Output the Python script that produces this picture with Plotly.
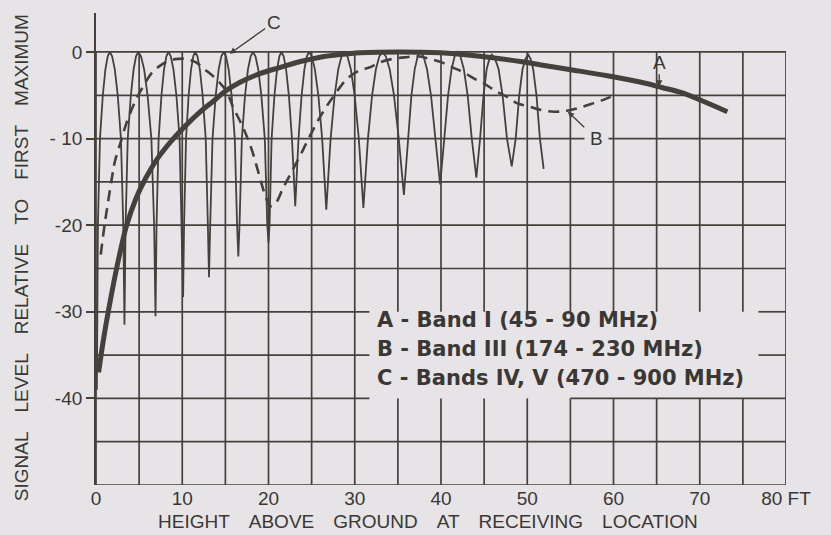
import plotly.graph_objects as go

# ---------------- data ----------------
# A - Band I (thick solid)
A_x = [0.3, 0.9, 1.7, 2.6, 3.5, 4.6, 5.8, 7.2, 8.8, 10.6, 12.2, 13.7, 14.9, 16.7,
       19.0, 21.3, 23.7, 26.0, 28.3, 30.6, 35.2, 39.9, 44.5, 49.2, 51.6, 55.4, 59.3,
       63.2, 65.6, 67.9, 70.2, 73.2]
A_y = [-37.0, -33.0, -28.5, -24.0, -20.2, -17.0, -14.5, -12.2, -10.2, -8.3, -6.8, -5.6,
       -4.6, -3.5, -2.5, -1.8, -1.1, -0.6, -0.3, -0.1, 0.0, -0.1, -0.5, -1.1, -1.5, -2.1,
       -2.75, -3.5, -4.1, -4.7, -5.6, -6.9]

# B - Band III (dashed)
B_x = [0.55, 0.95, 1.4, 1.9, 2.2, 2.9, 3.5, 4.5, 5.4, 6.4, 7.4, 8.5, 9.5, 10.5, 11.6,
       12.6, 13.9, 15.1, 15.9, 16.9, 18.0, 18.8, 19.6, 20.2, 20.8, 21.7, 22.7, 23.9,
       25.0, 26.4, 27.7, 29.1, 30.6, 31.7, 32.9, 34.4, 36.0, 37.3, 38.7, 40.1, 41.4,
       42.6, 43.9, 45.1, 46.3, 47.5, 48.8, 50.2, 51.6, 53.1, 54.5, 55.8, 57.4, 58.9, 60.1]
B_y = [-23.4, -20.3, -17.3, -14.2, -12.6, -10.3, -8.3, -5.8, -4.1, -2.5, -1.6, -1.0,
       -0.8, -0.8, -1.2, -2.0, -3.1, -4.5, -6.4, -8.4, -11.1, -13.8, -16.5, -17.8, -17.5,
       -15.7, -13.8, -11.5, -9.3, -6.8, -4.9, -3.1, -2.1, -1.8, -1.2, -0.8, -0.6, -0.5,
       -0.8, -1.2, -1.8, -2.35, -3.1, -3.7, -4.5, -5.1, -5.9, -6.3, -6.7, -6.9, -6.8,
       -6.5, -6.0, -5.5, -5.0]

# C - Bands IV, V (thin solid, lobes with deep nulls)
C_x = [0.1,
       0.22, 0.46, 0.79, 1.09, 1.36, 1.6, 1.87, 2.18, 2.52, 2.89, 3.16,
       3.3,
       3.43, 3.68, 4.04, 4.36, 4.64, 4.9, 5.22, 5.58, 5.98, 6.42, 6.74,
       6.9,
       7.02, 7.26, 7.59, 7.89, 8.16, 8.4, 8.67, 8.98, 9.32, 9.69, 9.96,
       10.1,
       10.21, 10.44, 10.74, 11.02, 11.28, 11.5, 11.76, 12.04, 12.36, 12.72, 12.97,
       13.1,
       13.24, 13.51, 13.88, 14.22, 14.53, 14.8, 15.07, 15.38, 15.72, 16.09, 16.36,
       16.5,
       16.64, 16.91, 17.28, 17.62, 17.93, 18.2, 18.49, 18.81, 19.17, 19.57, 19.86,
       20.0,
       20.12, 20.36, 20.69, 20.99, 21.26, 21.5, 21.76, 22.04, 22.36, 22.72,
       23.1,
       23.48, 23.84, 24.16, 24.44, 24.7, 25.02, 25.38, 25.78, 26.22,
       26.7,
       27.2, 27.67, 28.09, 28.46, 28.8, 29.15, 29.55, 29.99, 30.47,
       31.0,
       31.53, 32.01, 32.45, 32.85, 33.2, 33.6, 34.05, 34.55, 35.1,
       35.7,
       36.16, 36.57, 36.95, 37.3, 37.6, 37.97, 38.38, 38.84, 39.35,
       39.9,
       40.38, 40.82, 41.22, 41.58, 41.9, 42.25, 42.65, 43.09, 43.57,
       44.1,
       44.53, 44.93, 45.29, 45.61, 45.9, 46.27, 46.68, 47.14, 47.65,
       48.2,
       48.66, 49.07, 49.45, 49.8, 50.1, 50.39, 50.69, 51.07, 51.47,
       51.9]
C_y = [-39.0,
       -20, -10, -5, -2, -0.5, 0, -0.5, -2, -5, -10, -20,
       -31.5,
       -20, -10, -5, -2, -0.5, 0, -0.5, -2, -5, -10, -20,
       -30.5,
       -20, -10, -5, -2, -0.5, 0, -0.5, -2, -5, -10, -20,
       -28.3,
       -20, -10, -5, -2, -0.5, 0, -0.5, -2, -5, -10, -20,
       -26.0,
       -20, -10, -5, -2, -0.5, 0, -0.5, -2, -5, -10, -20,
       -23.6,
       -20, -10, -5, -2, -0.5, 0, -0.5, -2, -5, -10, -20,
       -22.0,
       -20, -10, -5, -2, -0.5, 0, -0.5, -2, -5, -10,
       -17.8,
       -10, -5, -2, -0.5, 0, -0.5, -2, -5, -10,
       -18.2,
       -10, -5, -2, -0.5, 0, -0.5, -2, -5, -10,
       -18.0,
       -10, -5, -2, -0.5, 0, -0.5, -2, -5, -10,
       -16.5,
       -10, -5, -2, -0.5, 0, -0.5, -2, -5, -10,
       -15.3,
       -10, -5, -2, -0.5, 0, -0.5, -2, -5, -10,
       -14.5,
       -10, -5, -2, -0.8, -0.3, -0.8, -2, -5, -10,
       -13.2,
       -10, -5, -2, -0.8, -0.3, -0.8, -2, -5, -10,
       -13.5]

X_TICKS = [0, 10, 20, 30, 40, 50, 60, 70, 80]
X_TICK_TEXT = ["0", "10", "20", "30", "40", "50", "60", "70", "80 FT"]
Y_TICKS = [0, -10, -20, -30, -40]
Y_TICK_TEXT = ["0", "- 10", "-20", "-30", "-40"]
GRID_X = list(range(0, 81, 5))
GRID_Y = list(range(-50, 1, 5))

LEGEND_LINES = ["A - Band I (45 - 90 MHz)",
                "B - Band III (174 - 230 MHz)",
                "C - Bands IV, V (470 - 900 MHz)"]

# ---------------- style ----------------
INK = "#45403c"
TEXT = "#3b3734"
PAPER = "#e6e4e6"

fig = go.Figure()
fig.add_trace(go.Scatter(x=C_x, y=C_y, mode="lines",
                         line=dict(color=INK, width=1.8), hoverinfo="skip"))
fig.add_trace(go.Scatter(x=B_x, y=B_y, mode="lines", line_shape="spline",
                         line=dict(color=INK, width=2.6, dash="11px,7px"),
                         hoverinfo="skip"))
fig.add_trace(go.Scatter(x=A_x, y=A_y, mode="lines", line_shape="spline",
                         line=dict(color=INK, width=5), hoverinfo="skip"))

# grid (with the gap where the legend text sits)
gap_x0, gap_x1, gap_y0, gap_y1 = 31.7, 76.8, -40, -30
shapes = []
for gx in GRID_X:
    if gap_x0 < gx < gap_x1:
        segs = [(-50, gap_y0), (gap_y1, 0)]
    else:
        segs = [(-50, 0)]
    for a, b in segs:
        shapes.append(dict(type="line", xref="x", yref="y", x0=gx, x1=gx, y0=a, y1=b,
                           line=dict(color=INK, width=1.7), layer="below"))
for gy in GRID_Y:
    if gy in (-30, -35):
        segs = [(0, gap_x0), (gap_x1, 80)]
    elif gy == -40:
        segs = [(0, gap_x0), (55, 80)]
    else:
        segs = [(0, 80)]
    for a, b in segs:
        shapes.append(dict(type="line", xref="x", yref="y", x0=a, x1=b, y0=gy, y1=gy,
                           line=dict(color=INK, width=1.7), layer="below"))
# short outside tick marks below the x axis
for tx in X_TICKS:
    shapes.append(dict(type="line", xref="x", yref="y", x0=tx, x1=tx, y0=-50, y1=-50.6,
                       line=dict(color=INK, width=1.6), layer="below"))

annotations = []
# legend text
for txt, yy in zip(LEGEND_LINES, [-30.95, -34.35, -37.7]):
    annotations.append(dict(x=32.4, y=yy, xref="x", yref="y", text=txt,
                            showarrow=False, xanchor="left", yanchor="middle",
                            font=dict(family="DejaVu Sans", size=21, color=TEXT,
                                      weight="bold")))
# curve labels
lab_font = dict(family="Liberation Sans", size=19, color=TEXT)
annotations.append(dict(x=15.5, y=-0.2, ax=20.6, ay=3.4, xref="x", yref="y",
                        axref="x", ayref="y", text="C", showarrow=True,
                        arrowhead=2, arrowsize=0.9, arrowwidth=1.4, arrowcolor=INK,
                        xanchor="center", yanchor="middle", font=lab_font))
annotations.append(dict(x=65.3, y=-4.0, ax=65.3, ay=-1.2, xref="x", yref="y",
                        axref="x", ayref="y", text="A", showarrow=True,
                        arrowhead=2, arrowsize=0.9, arrowwidth=1.4, arrowcolor=INK,
                        xanchor="center", yanchor="middle", font=lab_font))
annotations.append(dict(x=54.7, y=-6.9, ax=58.0, ay=-10.0, xref="x", yref="y",
                        axref="x", ayref="y", text="B", showarrow=True,
                        arrowhead=2, arrowsize=0.9, arrowwidth=1.4, arrowcolor=INK,
                        xanchor="center", yanchor="middle",
                        bgcolor=PAPER, borderpad=5, font=lab_font))
annotations.append(dict(x=-3.1, y=3.9, xref="x", yref="y", text="DB", showarrow=False,
                        xanchor="center", yanchor="middle",
                        font=dict(family="Liberation Sans", size=18, color=TEXT)))
# axis titles
annotations.append(dict(x=-0.107, y=0.481, xref="paper", yref="paper", textangle=-90,
                        xanchor="center", yanchor="middle",
                        text="SIGNAL\u2003LEVEL\u2003RELATIVE\u2003TO\u2003FIRST\u2003MAXIMUM",
                        showarrow=False,
                        font=dict(family="Liberation Sans", size=19, color=TEXT)))
annotations.append(dict(x=0.481, y=-0.077, xref="paper", yref="paper",
                        xanchor="center", yanchor="middle",
                        text="HEIGHT\u2003ABOVE\u2003GROUND\u2003AT\u2003RECEIVING\u2003LOCATION",
                        showarrow=False,
                        font=dict(family="Liberation Sans", size=19, color=TEXT)))

fig.update_layout(
    width=831, height=535,
    margin=dict(l=96, r=45, t=13, b=50),
    paper_bgcolor=PAPER, plot_bgcolor=PAPER,
    showlegend=False,
    shapes=shapes, annotations=annotations,
    xaxis=dict(range=[0, 80], showgrid=False, zeroline=False, showline=False,
               tickvals=X_TICKS, ticktext=X_TICK_TEXT, ticks="",
               tickfont=dict(family="Liberation Sans", size=19, color=TEXT)),
    yaxis=dict(range=[-50, 4.5], showgrid=False, zeroline=False, showline=True,
               linecolor=INK, linewidth=1.8,
               tickvals=Y_TICKS, ticktext=Y_TICK_TEXT, ticks="outside", ticklen=8,
               tickwidth=1.6, tickcolor=INK,
               tickfont=dict(family="Liberation Sans", size=19, color=TEXT)),
)

fig.write_html(
    "out.html",
    config={"displayModeBar": False},
    post_script="document.body.style.margin='0';"
                "document.body.style.background='" + PAPER + "';",
)
